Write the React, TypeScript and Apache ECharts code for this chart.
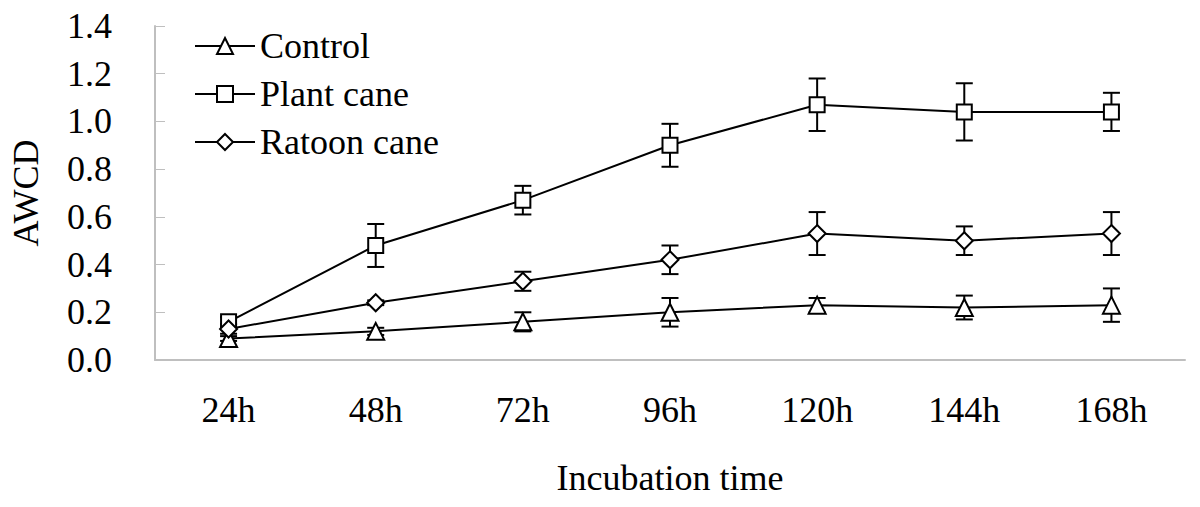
import React, { useEffect, useRef } from "react";
import * as echarts from "echarts";

const categories = ["24h", "48h", "72h", "96h", "120h", "144h", "168h"];
const controlValues = [0.09, 0.12, 0.16, 0.2, 0.23, 0.22, 0.23];
const controlErrors = [0.01, 0.015, 0.04, 0.06, 0.03, 0.05, 0.07];
const plantValues = [0.16, 0.48, 0.67, 0.9, 1.07, 1.04, 1.04];
const plantErrors = [0.02, 0.09, 0.06, 0.09, 0.11, 0.12, 0.08];
const ratoonValues = [0.13, 0.24, 0.33, 0.42, 0.53, 0.5, 0.53];
const ratoonErrors = [0.02, 0.01, 0.04, 0.06, 0.09, 0.06, 0.09];
const yTicks = { min: 0, max: 1.4, interval: 0.2 };

const FONT = "'Liberation Serif', 'Times New Roman', serif";

function errorSeries(name: string, values: number[], errors: number[]) {
  return {
    type: "custom",
    name: name + " error",
    z: 1,
    silent: true,
    data: values.map((v, i) => [i, v - errors[i], v + errors[i]]),
    encode: { x: 0, y: [1, 2] },
    renderItem: (params: any, api: any) => {
      const x = api.value(0);
      const lo = api.coord([x, api.value(1)]);
      const hi = api.coord([x, api.value(2)]);
      const hw = 8.5;
      const style = { stroke: "#000", lineWidth: 2 };
      return {
        type: "group",
        children: [
          { type: "line", shape: { x1: hi[0], y1: hi[1], x2: lo[0], y2: lo[1] }, style },
          { type: "line", shape: { x1: hi[0] - hw, y1: hi[1], x2: hi[0] + hw, y2: hi[1] }, style },
          { type: "line", shape: { x1: lo[0] - hw, y1: lo[1], x2: lo[0] + hw, y2: lo[1] }, style },
        ],
      };
    },
  };
}

function lineSeries(name: string, values: number[], symbol: string, size: number[]) {
  return {
    type: "line",
    name,
    z: 3,
    data: values,
    symbol,
    symbolSize: size,
    showAllSymbol: true,
    lineStyle: { color: "#000", width: 2 },
    itemStyle: { color: "#fff", borderColor: "#000", borderWidth: 2 },
  };
}

export default function App() {
  const ref = useRef<HTMLDivElement>(null);
  useEffect(() => {
    if (!ref.current) return;
    const chart = echarts.init(ref.current, undefined, { renderer: "svg" });
    chart.setOption({
      animation: false,
      backgroundColor: "#fff",
      textStyle: { fontFamily: FONT, color: "#000" },
      grid: {
        left: 155,
        right: 15,
        top: 26,
        bottom: 147,
        containLabel: false,
        outerBoundsMode: "none",
      },
      legend: {
        orient: "vertical",
        left: 189,
        top: 23,
        itemWidth: 60,
        itemHeight: 20,
        itemGap: 12,
        data: ["Control", "Plant cane", "Ratoon cane"],
        textStyle: { fontFamily: FONT, fontSize: 36, color: "#000", lineHeight: 36 },
      },
      xAxis: {
        type: "category",
        data: categories,
        boundaryGap: true,
        name: "Incubation time",
        nameLocation: "middle",
        nameGap: 100,
        nameTextStyle: { fontFamily: FONT, fontSize: 36, color: "#000" },
        axisLine: { lineStyle: { color: "#bfbfbf", width: 2 } },
        axisTick: { inside: true, length: 10, lineStyle: { color: "#bfbfbf", width: 1 } },
        axisLabel: { fontFamily: FONT, fontSize: 36, color: "#000", margin: 32 },
        splitLine: { show: false },
      },
      yAxis: {
        type: "value",
        min: yTicks.min,
        max: yTicks.max,
        interval: yTicks.interval,
        name: "AWCD",
        nameLocation: "middle",
        nameGap: 111,
        nameTextStyle: { fontFamily: FONT, fontSize: 36, color: "#000" },
        axisLine: { show: true, lineStyle: { color: "#bfbfbf", width: 2 } },
        axisTick: { show: true, inside: true, length: 10, lineStyle: { color: "#bfbfbf", width: 1 } },
        axisLabel: {
          fontFamily: FONT,
          fontSize: 36,
          color: "#000",
          margin: 43,
          formatter: (v: number) => v.toFixed(1),
        },
        splitLine: { show: false },
      },
      series: [
        errorSeries("Control", controlValues, controlErrors),
        errorSeries("Plant cane", plantValues, plantErrors),
        errorSeries("Ratoon cane", ratoonValues, ratoonErrors),
        lineSeries("Control", controlValues, "triangle", [17, 17]),
        lineSeries("Plant cane", plantValues, "rect", [15, 15]),
        lineSeries("Ratoon cane", ratoonValues, "diamond", [17, 17]),
      ],
    });
    return () => chart.dispose();
  }, []);
  return (
    <div
      ref={ref}
      style={{ position: "fixed", left: 0, top: 0, width: 1200, height: 507, background: "#fff" }}
    />
  );
}
